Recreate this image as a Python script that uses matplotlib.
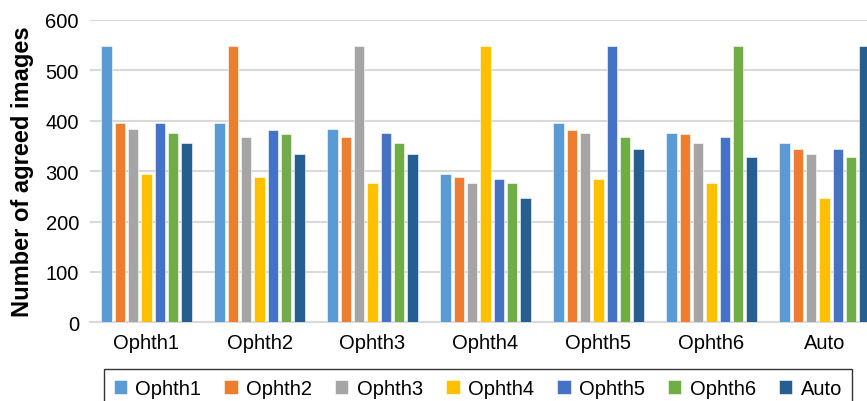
import matplotlib
matplotlib.use("Agg")
import matplotlib.pyplot as plt
import numpy as np

plt.rcParams['font.family'] = ['Liberation Sans', 'DejaVu Sans']

categories = ["Ophth1", "Ophth2", "Ophth3", "Ophth4", "Ophth5", "Ophth6", "Auto"]
series_names = ["Ophth1", "Ophth2", "Ophth3", "Ophth4", "Ophth5", "Ophth6", "Auto"]
ophth1 = [549, 396, 384, 295, 396, 376, 355]
ophth2 = [396, 549, 367, 289, 382, 374, 344]
ophth3 = [384, 367, 549, 276, 376, 355, 334]
ophth4 = [295, 289, 276, 549, 284, 276, 246]
ophth5 = [396, 382, 376, 284, 549, 368, 344]
ophth6 = [376, 374, 355, 276, 368, 549, 328]
auto = [355, 334, 334, 247, 343, 328, 549]
series = [ophth1, ophth2, ophth3, ophth4, ophth5, ophth6, auto]
colors = ["#5B9BD5", "#ED7D31", "#A5A5A5", "#FFC000", "#4472C4", "#70AD47", "#255E91"]
yticks = [0, 100, 200, 300, 400, 500, 600]

fig = plt.figure(figsize=(8.67, 4.02), dpi=100)
W, H = 867, 402
left_px, right_px = 90.0, 881.0
bottom_px, top_px = 323.3, 21
ax = fig.add_axes([left_px / W, (H - bottom_px) / H, (right_px - left_px) / W, (bottom_px - top_px) / H])

x = np.arange(len(categories))
pitch = 0.118
width = 0.092
for i, (name, vals, c) in enumerate(zip(series_names, series, colors)):
    ax.bar(x + (i - 3) * pitch, vals, width=width, color=c, label=name,
           edgecolor="white", linewidth=0.4, zorder=3)

ax.set_xlim(-0.5, len(categories) - 0.5)
ax.set_ylim(0, 600)
ax.set_yticks(yticks)
ax.set_xticks(x)
ax.set_xticklabels(categories)
ax.tick_params(axis='both', length=0, labelsize=14.5, colors="#000000")
ax.tick_params(axis='x', pad=8)
ax.tick_params(axis='y', pad=8)
ax.grid(axis='y', color="#d9d9d9", linewidth=1.5, zorder=0)
for s in ["top", "right", "left"]:
    ax.spines[s].set_visible(False)
ax.spines["bottom"].set_color("#d9d9d9")
ax.spines["bottom"].set_linewidth(1.5)
ax.set_ylabel("Number of agreed images", fontsize=17, fontweight="bold", labelpad=8)

leg = fig.legend(loc="lower left", bbox_to_anchor=(103.5 / W, -7 / H, (852 - 103.5) / W, 40 / H),
                 mode="expand", ncol=7, fontsize=14.5, frameon=True, fancybox=False,
                 handlelength=0.65, handleheight=0.65, handletextpad=0.4, columnspacing=1.0,
                 borderpad=0.5, borderaxespad=0)
leg.get_frame().set_edgecolor("#000000")
leg.get_frame().set_linewidth(1.0)

fig.savefig("out.png", dpi=100)
